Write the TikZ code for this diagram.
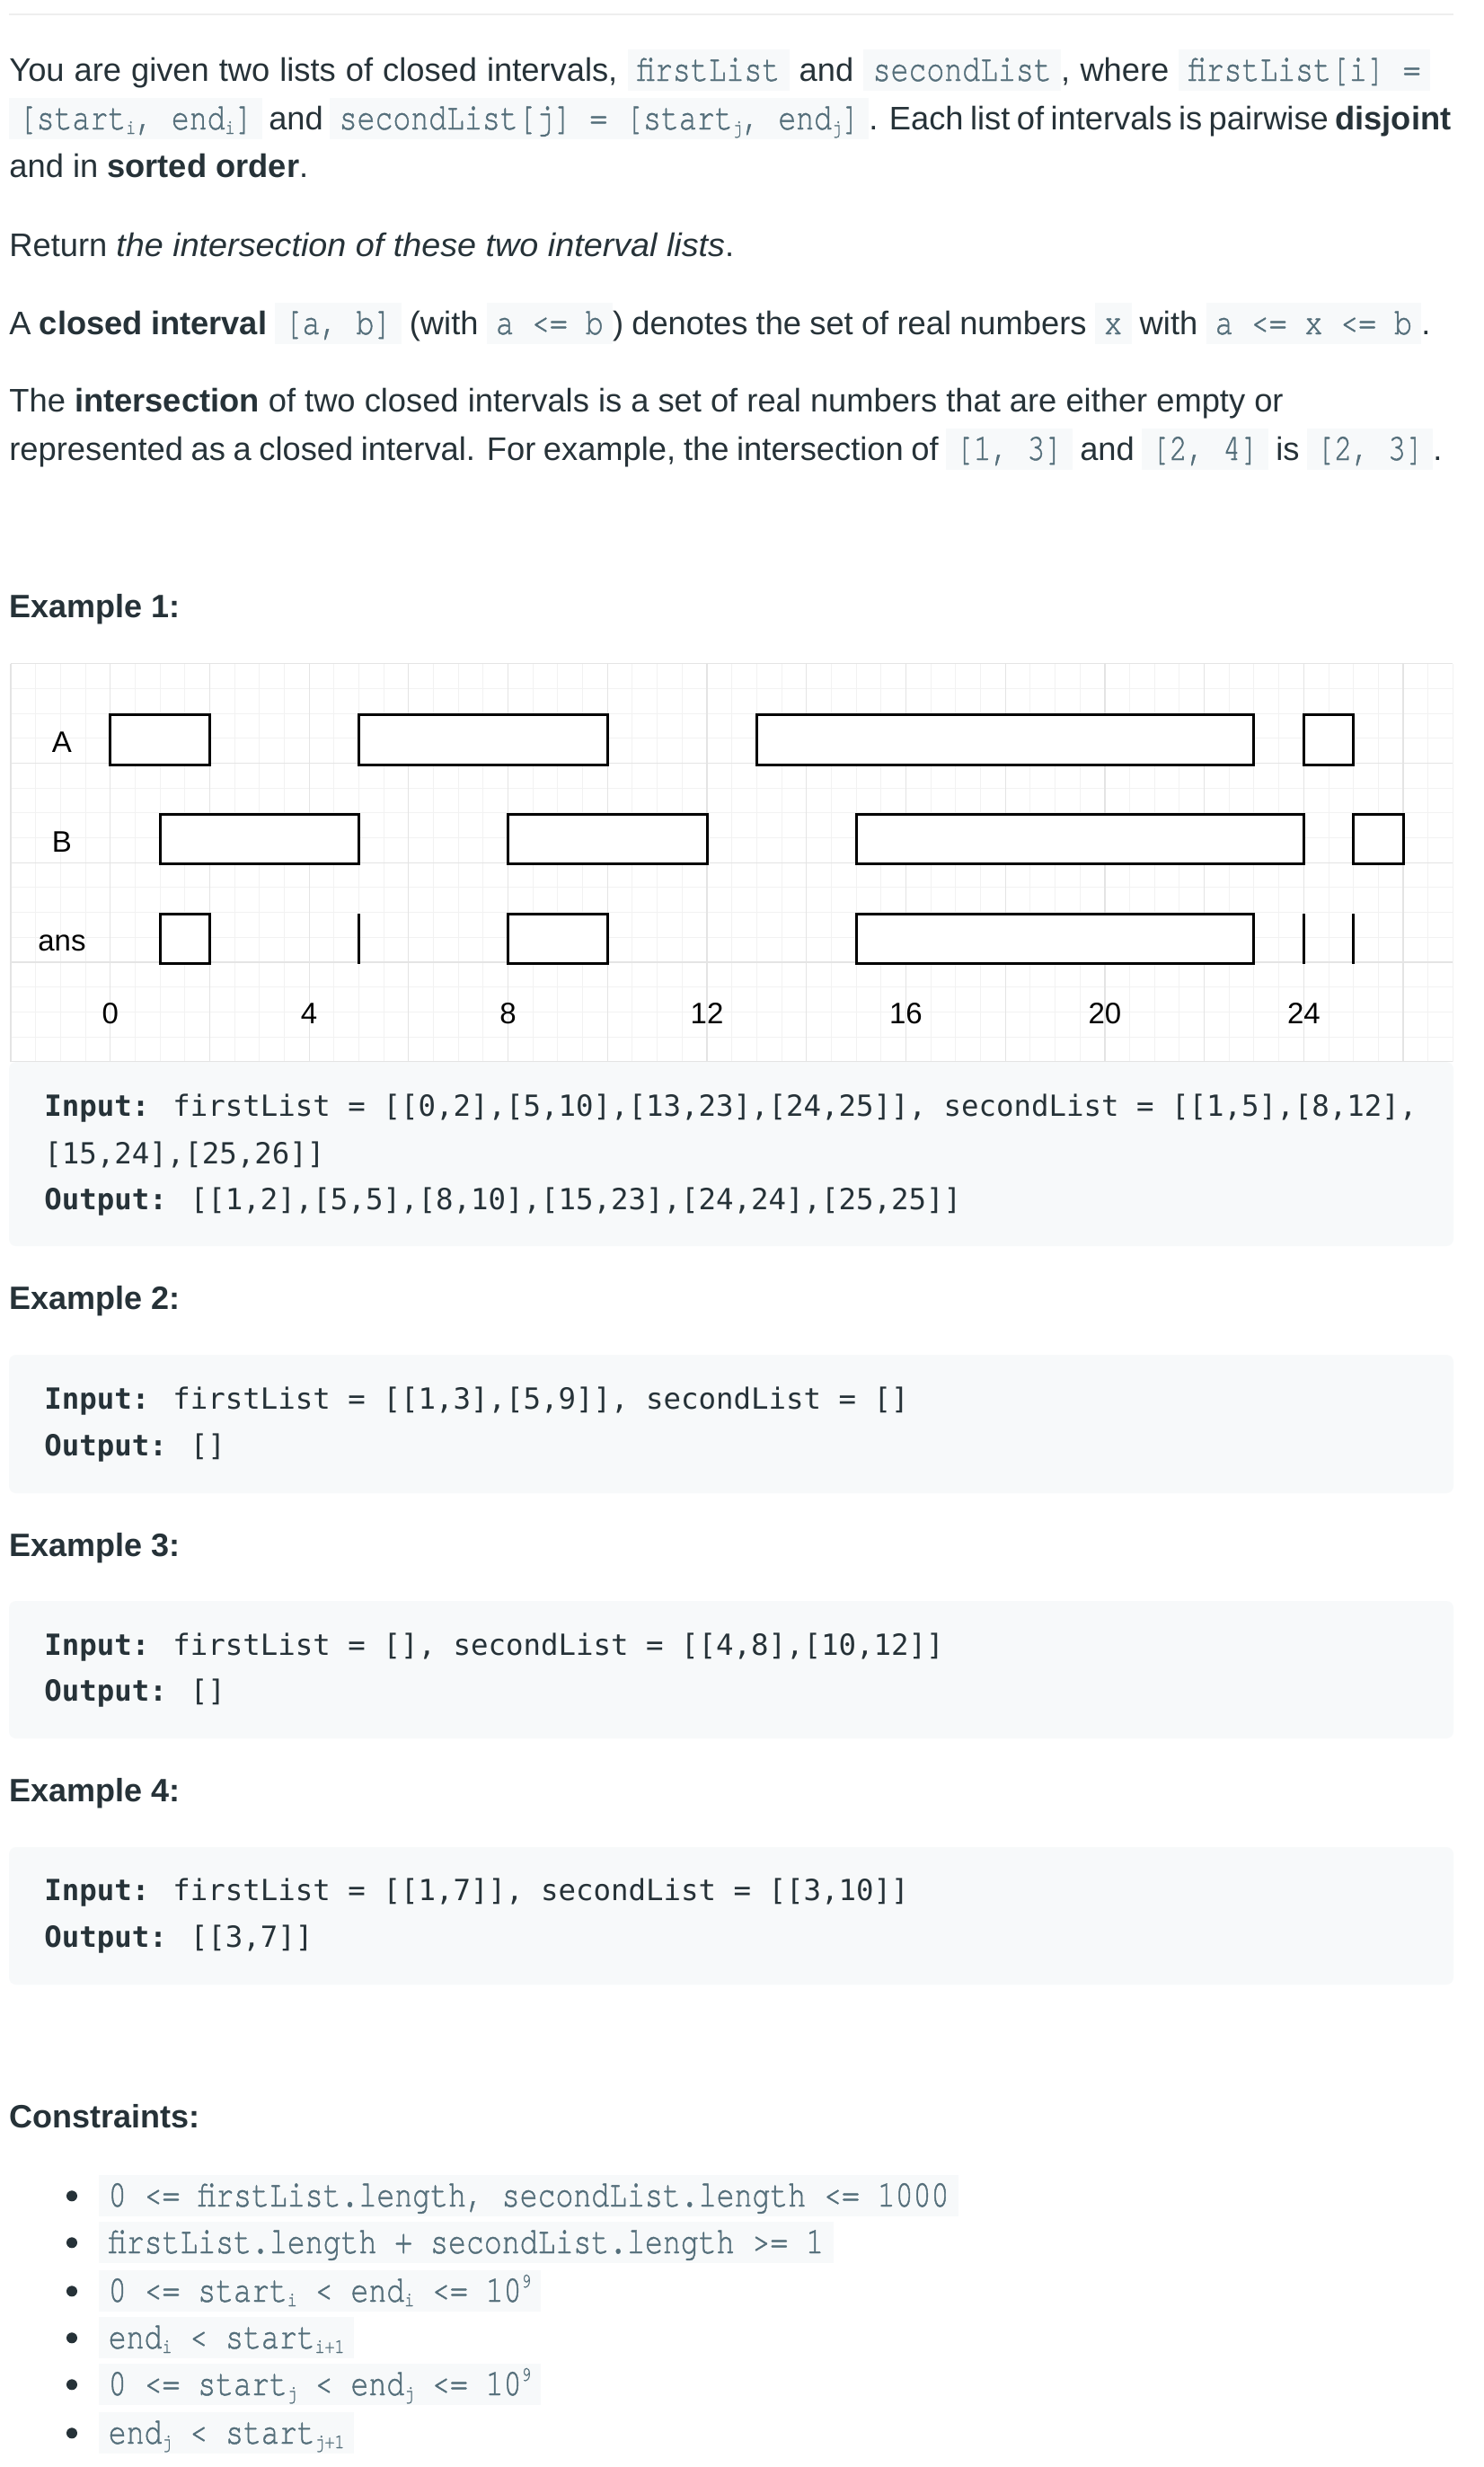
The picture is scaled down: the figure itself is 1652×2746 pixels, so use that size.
\documentclass[tikz,border=0pt]{standalone}
\usepackage{fontspec}
\setmainfont{Liberation Sans}
\newfontfamily\slfont[FakeStretch=1.04]{Liberation Sans}
\newfontfamily\codefont[FakeStretch=0.79, FakeBold=1]{texgyrecursor-regular.otf}
\newfontfamily\blockfont{DejaVu Sans Mono}
\usetikzlibrary{positioning}
\definecolor{ink}{HTML}{263238}
\definecolor{codefg}{HTML}{546E7A}
\definecolor{codebg}{HTML}{F7F9FA}
\definecolor{rulegray}{HTML}{EEEEEE}
\definecolor{gridmajor}{HTML}{E4E4E4}
\definecolor{gridminor}{HTML}{F2F2F2}
% inline code with grey background
\newcommand{\ic}[1]{{\setlength{\fboxsep}{0pt}\colorbox{codebg}{\hspace{5.2pt}\rule[-5.5pt]{0pt}{23pt}{\codefont\fontsize{21pt}{24pt}\selectfont\color{codefg}#1}\hspace{5.2pt}}}}
\newcommand{\lo}[1]{\raisebox{-2.5pt}[0pt][0pt]{\fontsize{11.5pt}{12pt}\selectfont #1}}
\newcommand{\hi}[1]{\raisebox{8pt}[0pt][0pt]{\fontsize{11.5pt}{12pt}\selectfont #1}}
% one text line spread to a given width
\newcommand{\spread}[2]{\makebox[#1][s]{#2}}
\tikzset{
  txt/.style={anchor=base west, inner sep=0pt, text=ink, font=\fontsize{18.15pt}{22pt}\selectfont},
  hd/.style={txt, font=\bfseries\fontsize{18pt}{22pt}\selectfont},
  blk/.style={anchor=base west, inner sep=0pt, text=ink, font=\blockfont\fontsize{16.2pt}{20pt}\selectfont},
  lbl/.style={anchor=base, inner sep=0pt, text=black, font=\fontsize{16.5pt}{20pt}\selectfont},
  bar/.style={draw=black, line width=1.5pt, fill=white},
}
\begin{document}
\begin{tikzpicture}[x=0.5pt, y=-0.5pt]
  \fill[white] (0,0) rectangle (1652,2746);
  \useasboundingbox (0,0) rectangle (1652,2746);
  \draw[rulegray, line width=1pt] (10,16) -- (1618,16);
  % problem statement
  \node[txt] (intro1) at (10,90) {\spread{790.8pt}{You are given two lists of closed intervals, \ic{firstList} and \ic{secondList}, where \ic{firstList[i] =}}};
  \node[txt] (intro2) at (10,144) {\spread{802.5pt}{\ic{[start\lo{i}, end\lo{i}]} and \ic{secondList[j] = [start\lo{j}, end\lo{j}]}. Each list of intervals is pairwise \textbf{disjoint}}};
  \node[txt] (intro3) at (10,197) {and in \textbf{sorted order}.};
  \node[txt] (ret) at (10,285) {Return {\slfont\itshape the intersection of these two interval lists}.};
  \node[txt] (closed) at (10,372) {\spread{791pt}{A \textbf{closed interval} \ic{[a, b]} (with \ic{a <= b}) denotes the set of real numbers \ic{x} with \ic{a <= x <= b}.}};
  \node[txt] (inter1) at (10,458) {The \textbf{intersection} of two closed intervals is a set of real numbers that are either empty or};
  \node[txt] (inter2) at (10,512) {\spread{797.5pt}{represented as a closed interval. For example, the intersection of \ic{[1, 3]} and \ic{[2, 4]} is \ic{[2, 3]}.}};
  \node[hd] (ex1) at (10,687) {Example 1:};
  % interval chart
  \begin{scope}[shift={(122.7,1071)}, x=27.68pt, y=27.68pt]
    \draw[gridminor, line width=0.5pt, step=0.5] (-2,-2) grid (27,6);
    \draw[gridmajor, line width=0.6pt, step=2] (-2,-2) grid (27,6);
    \node[lbl] (rowA) at (-0.97,4.22) {A};
    \node[lbl] (rowB) at (-0.97,2.22) {B};
    \node[lbl] (rowAns) at (-0.97,0.22) {ans};
    \foreach \t in {0,4,...,24}
      \node[lbl, anchor=center] (tick\t) at (\t,-1.03) {\t};
    \foreach \a/\b in {0/2,5/10,13/23,24/25}
      \draw[bar] (\a,3.97) rectangle (\b,4.97);
    \foreach \a/\b in {1/5,8/12,15/24,25/26}
      \draw[bar] (\a,1.97) rectangle (\b,2.97);
    \foreach \a/\b in {1/2,8/10,15/23}
      \draw[bar] (\a,-0.03) rectangle (\b,0.97);
    \foreach \p in {5,24,25}
      \draw[bar] (\p,-0.03) -- (\p,0.97);
  \end{scope}
  % example blocks
  \foreach \ya/\yb in {1182/1387,1508/1662,1782/1935,2056/2209}
    \fill[codebg, rounded corners=4pt] (10,\ya) rectangle (1618,\yb);
  \node[blk] (in1) at (49,1242) {\textbf{Input:} firstList = [[0,2],[5,10],[13,23],[24,25]], secondList = [[1,5],[8,12],};
  \node[blk] (in1b) at (49,1295) {[15,24],[25,26]]};
  \node[blk] (out1) at (49,1346) {\textbf{Output:} [[1,2],[5,5],[8,10],[15,23],[24,24],[25,25]]};
  \node[hd] (ex2) at (10,1457) {Example 2:};
  \node[blk] (in2) at (49,1568) {\textbf{Input:} firstList = [[1,3],[5,9]], secondList = []};
  \node[blk] (out2) at (49,1620) {\textbf{Output:} []};
  \node[hd] (ex3) at (10,1732) {Example 3:};
  \node[blk] (in3) at (49,1842) {\textbf{Input:} firstList = [], secondList = [[4,8],[10,12]]};
  \node[blk] (out3) at (49,1893) {\textbf{Output:} []};
  \node[hd] (ex4) at (10,2005) {Example 4:};
  \node[blk] (in4) at (49,2115) {\textbf{Input:} firstList = [[1,7]], secondList = [[3,10]]};
  \node[blk] (out4) at (49,2167) {\textbf{Output:} [[3,7]]};
  % constraints
  \node[hd] (cons) at (10,2368) {Constraints:};
  \foreach \yb in {2456,2508,2562,2614,2666,2720}
    \fill[ink] (80,\yb-11.7) circle (3pt);
  \node[txt] (c1) at (110,2456) {\ic{0 <= firstList.length, secondList.length <= 1000}};
  \node[txt] (c2) at (110,2508) {\ic{firstList.length + secondList.length >= 1}};
  \node[txt] (c3) at (110,2562) {\ic{0 <= start\lo{i} < end\lo{i} <= 10\hi{9}}};
  \node[txt] (c4) at (110,2614) {\ic{end\lo{i} < start\lo{i+1}}};
  \node[txt] (c5) at (110,2666) {\ic{0 <= start\lo{j} < end\lo{j} <= 10\hi{9}}};
  \node[txt] (c6) at (110,2720) {\ic{end\lo{j} < start\lo{j+1}}};
\end{tikzpicture}
\end{document}
